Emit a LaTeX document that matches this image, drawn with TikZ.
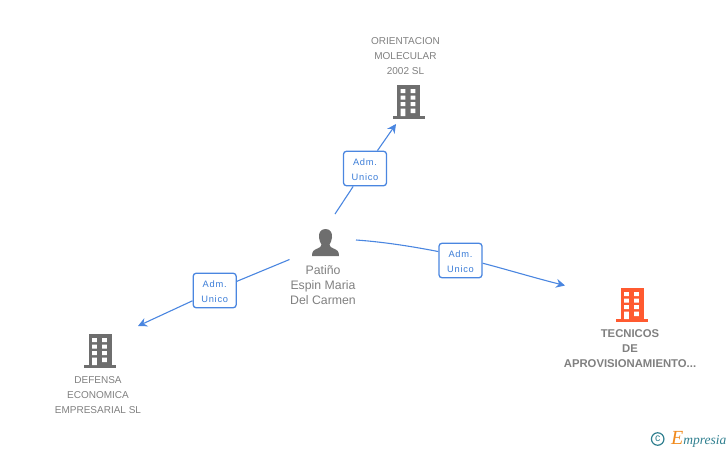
\documentclass[tikz,border=0pt]{standalone}
\usepackage{fontspec}
\setmainfont{Liberation Sans}
\newfontfamily\logofont{Liberation Serif}
\newfontfamily\rolefont[LetterSpace=8]{Liberation Sans}
\usetikzlibrary{arrows.meta}
\definecolor{linkblue}{HTML}{4A86E0}
\definecolor{labelblue}{HTML}{3B7DD8}
\definecolor{icongray}{HTML}{6E6E6E}
\definecolor{txtgray}{HTML}{808080}
\definecolor{iconorange}{HTML}{FF5A30}
\definecolor{logoteal}{HTML}{2F7F8F}
\definecolor{logoorange}{HTML}{F08A1D}
\newcommand{\rolelines}{\rule{0pt}{9pt}Adm.\\Unico}
\tikzset{
  x=1pt,y=-1pt,
  link/.style={draw=linkblue,line width=1.1pt},
  linkend/.style={link,-{Stealth[length=9pt,width=9pt,inset=3pt]}},
  rolebox/.style={draw=linkblue,line width=1.3pt,rounded corners=3pt,minimum width=43pt,minimum height=34.5pt,inner sep=0pt,
    fill=white,text=labelblue,align=center,
    font=\rolefont\fontsize{9.3}{15}\selectfont},
  caption/.style={text=txtgray,align=center,inner sep=0pt,font=\fontsize{10}{15}\selectfont},
  personcap/.style={text=txtgray,align=center,inner sep=0pt,font=\fontsize{12.3}{15}\selectfont},
  boldcap/.style={text=txtgray,align=center,inner sep=0pt,font=\fontsize{11.3}{15}\selectfont\bfseries},
  anchorpt/.style={inner sep=0pt,minimum size=0pt},
  pics/building/.style={code={
    \fill[#1] (-11.5,-17) rectangle (11.5,14);
    \fill[#1] (-16,14) rectangle (16,17);
    \fill[white]
      (-8,-13) rectangle (-3.2,-9) (2,-13) rectangle (6.8,-9)
      (-8,-6.5) rectangle (-3.2,-2.5) (2,-6.5) rectangle (6.8,-2.5)
      (-8,0) rectangle (-3.2,4) (2,0) rectangle (6.8,4)
      (-8,6.5) rectangle (-3.2,14) (2,6.5) rectangle (6.8,11);
  }},
}
\begin{document}
\begin{tikzpicture}
\useasboundingbox (0,0) rectangle (728,450);

% person icon
\node[anchorpt] (person) at (325.5,242.5) {};
\fill[icongray] (325.5,229) .. controls (320.5,229) and (318.5,233) .. (319,237.5)
  .. controls (319.3,240.5) and (320.5,243) .. (321.5,244.5)
  .. controls (321.5,246.5) and (320,247.5) .. (317.5,248.5)
  .. controls (313.5,250) and (312,251.5) .. (312,256)
  -- (339,256)
  .. controls (339,251.5) and (337.5,250) .. (333.5,248.5)
  .. controls (331,247.5) and (329.5,246.5) .. (329.5,244.5)
  .. controls (330.5,243) and (331.7,240.5) .. (332,237.5)
  .. controls (332.5,233) and (330.5,229) .. (325.5,229) -- cycle;
\node[personcap] (personname) at (323,285) {Patiño\\Espin Maria\\Del Carmen};

% buildings
\pic at (408.5,102) {building=icongray};
\node[anchorpt] (orient) at (408.5,102) {};
\node[caption] (orientname) at (405.5,56) {ORIENTACION\\MOLECULAR\\2002 SL};

\pic at (100,351) {building=icongray};
\node[anchorpt] (defensa) at (100,351) {};
\node[caption] (defensaname) at (98,395) {DEFENSA\\ECONOMICA\\EMPRESARIAL SL};

\pic at (632,305) {building=iconorange};
\node[anchorpt] (tecnicos) at (632,305) {};
\node[boldcap] (tecnicosname) at (630,349) {TECNICOS\\DE\\APROVISIONAMIENTO...};

% role labels
\node[rolebox] (roleA) at (365,168.5) {\rolelines};
\node[rolebox] (roleB) at (214.7,290.5) {\rolelines};
\node[rolebox] (roleC) at (460.5,260.5) {\rolelines};

% free ends of the connectors
\coordinate (aStart) at (335,214);
\coordinate (aEnd) at (396,124);
\coordinate (bStart) at (289.5,259.5);
\coordinate (bEnd) at (138,326);
\coordinate (cStart) at (356,240);
\coordinate (cEnd) at (565,285.5);

\draw[link] (aStart) -- (roleA);
\draw[linkend] (roleA) -- (aEnd);
\draw[link] (bStart) -- (roleB);
\draw[linkend] (roleB) -- (bEnd);
\draw[link] (cStart) .. controls (385,242) and (415,247) .. (roleC.158);
\draw[linkend] (roleC.-7) .. controls (505,269) and (535,278) .. (cEnd);

% logo
\node[circle,draw=logoteal,line width=1.2pt,minimum size=12.5pt,inner sep=0pt,text=logoteal,font=\fontsize{10.5}{10.5}\selectfont] (copy) at (657.7,439) {c};
\node[inner sep=0pt,anchor=base west,text=logoteal,font=\logofont\itshape\fontsize{13.5}{13.5}\selectfont] (logo) at (671,444.5) {\textcolor{logoorange}{\fontsize{20}{20}\selectfont E}mpresia};
\end{tikzpicture}
\end{document}
